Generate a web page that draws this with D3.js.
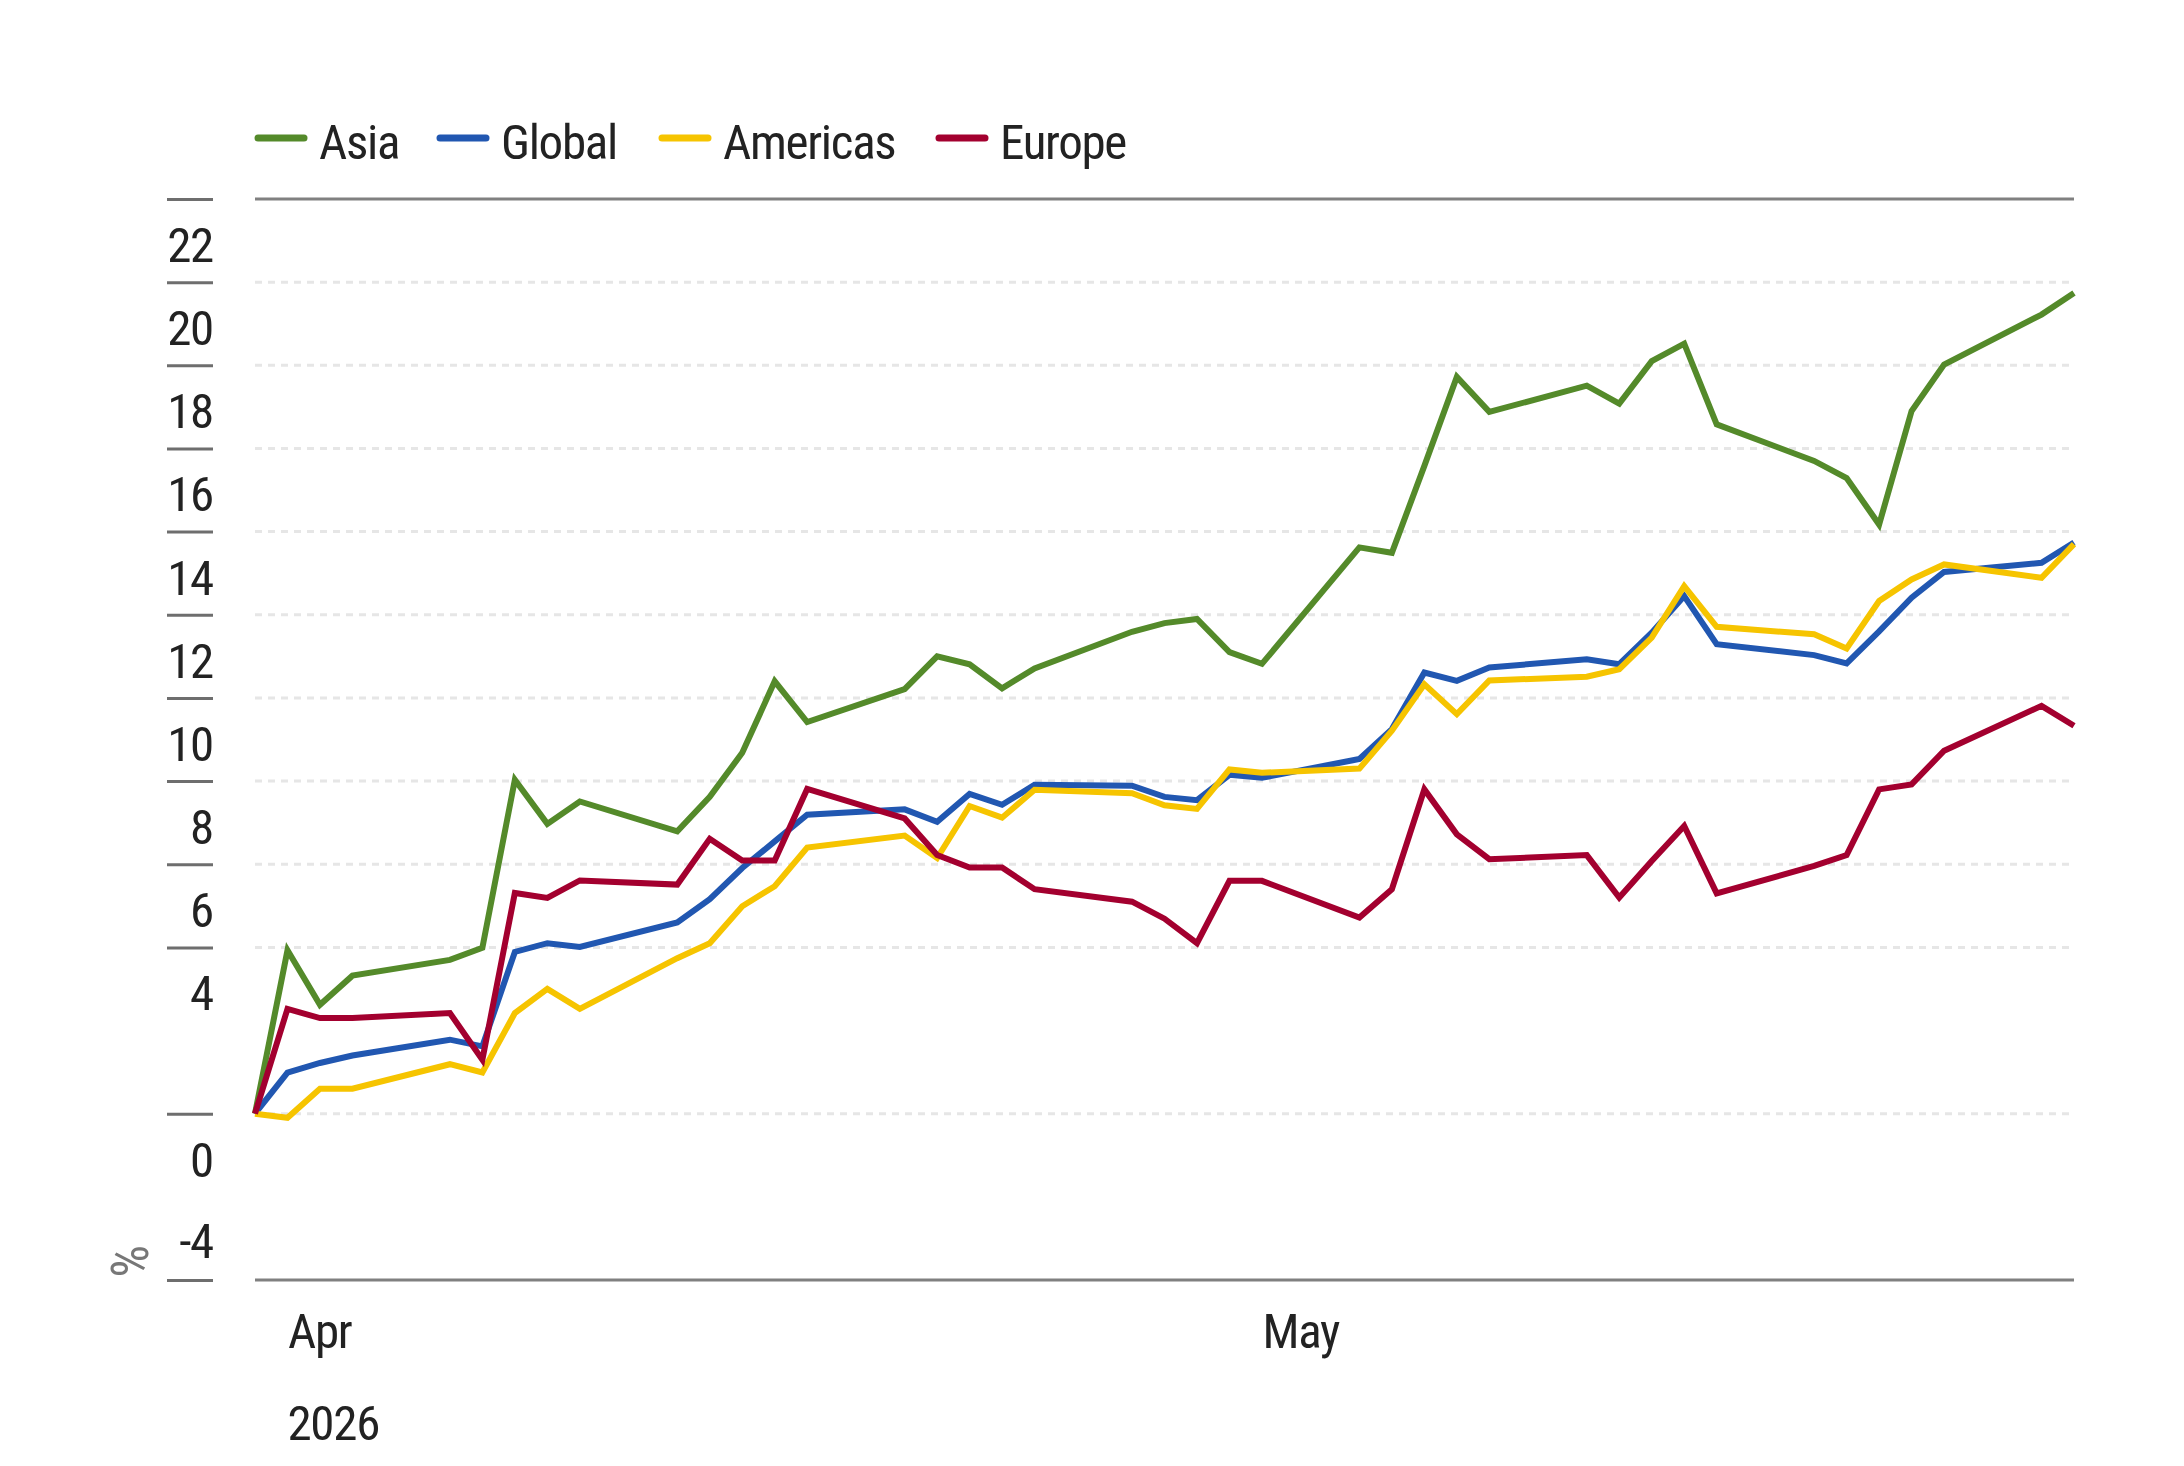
<!DOCTYPE html>
<html>
<head>
<meta charset="utf-8">
<script src="https://cdn.jsdelivr.net/npm/d3@7"></script>
<style>
    body { margin: 0; background: #fff; }
    svg text { font-family: "Liberation Sans Narrow", "Roboto Condensed", "DejaVu Sans Condensed", sans-serif; letter-spacing: -1.3px; }
</style>
</head>
<body>
<div id="chart"></div>
<script>
// trading days (since 31 Mar 2026)
var dates = ["2026-03-31", "2026-04-01", "2026-04-02", "2026-04-03", "2026-04-06", "2026-04-07", "2026-04-08",
    "2026-04-09", "2026-04-10", "2026-04-13", "2026-04-14", "2026-04-15", "2026-04-16", "2026-04-17",
    "2026-04-20", "2026-04-21", "2026-04-22", "2026-04-23", "2026-04-24", "2026-04-27", "2026-04-28",
    "2026-04-29", "2026-04-30", "2026-05-01", "2026-05-04", "2026-05-05", "2026-05-06", "2026-05-07",
    "2026-05-08", "2026-05-11", "2026-05-12", "2026-05-13", "2026-05-14", "2026-05-15", "2026-05-18",
    "2026-05-19", "2026-05-20", "2026-05-21", "2026-05-22", "2026-05-25", "2026-05-26"];

var asia = [0, 3.93, 2.62, 3.32, 3.70, 3.99, 8.03, 6.97, 7.51, 6.79, 7.62, 8.68, 10.40, 9.42,
    10.21, 11.0, 10.81, 10.23, 10.71, 11.59, 11.80, 11.90, 11.10, 10.82, 13.62, 13.49, 15.58, 17.72,
    16.88, 17.51, 17.08, 18.10, 18.52, 16.58, 15.70, 15.29, 14.17, 16.90, 18.02, 19.22, 19.74];
var global = [0, 0.99, 1.22, 1.40, 1.78, 1.62, 3.89, 4.10, 4.01, 4.60, 5.16, 5.91, 6.55, 7.19,
    7.32, 7.02, 7.69, 7.43, 7.91, 7.89, 7.62, 7.54, 8.15, 8.08, 8.53, 9.25, 10.61, 10.41,
    10.73, 10.93, 10.81, 11.57, 12.45, 11.29, 11.03, 10.83, 11.60, 12.41, 13.03, 13.25, 13.74];
var americas = [0, -0.10, 0.60, 0.60, 1.19, 0.99, 2.42, 3.00, 2.52, 3.74, 4.10, 4.99, 5.47, 6.40,
    6.69, 6.15, 7.40, 7.12, 7.79, 7.71, 7.42, 7.33, 8.28, 8.20, 8.30, 9.21, 10.33, 9.61,
    10.42, 10.51, 10.69, 11.45, 12.69, 11.71, 11.53, 11.19, 12.33, 12.85, 13.21, 12.89, 13.70];
var europe = [0, 2.52, 2.30, 2.30, 2.42, 1.30, 5.31, 5.19, 5.61, 5.51, 6.61, 6.09, 6.09, 7.81,
    7.10, 6.22, 5.92, 5.92, 5.40, 5.10, 4.69, 4.10, 5.60, 5.60, 4.72, 5.40, 7.80, 6.72,
    6.12, 6.22, 5.20, 6.08, 6.92, 5.30, 5.96, 6.22, 7.80, 7.92, 8.73, 9.81, 9.33];

var seriesNames = ["Asia", "Global", "Americas", "Europe"];
var seriesColors = ["#548a2a", "#2157b1", "#f6c400", "#a3002f"];
var seriesValues = [asia, global, americas, europe];

var yTicks = [-4, 0, 4, 6, 8, 10, 12, 14, 16, 18, 20, 22];
var yGrid = [0, 4, 6, 8, 10, 12, 14, 16, 18, 20];
var xTicks = ["2026-04-01", "2026-05-01"];
var yearLabel = "2026";

// set the dimensions of the page
var width = 2184, height = 1466;
var plot = { left: 255, right: 2074, top: 199, bottom: 1280 };

var svg = d3.select("#chart")
    .append("svg")
    .attr("width", width)
    .attr("height", height);

var parseDate = d3.timeParse("%Y-%m-%d");

// X scale (calendar days)
var x = d3.scaleTime()
    .domain([parseDate(dates[0]), parseDate(dates[dates.length - 1])])
    .range([plot.left, plot.right]);

// Y scale
var y = d3.scaleLinear()
    .domain([-4, 22])
    .range([plot.bottom, plot.top]);

// dotted gridlines
svg.append("g")
    .selectAll("line")
    .data(yGrid)
    .enter()
    .append("line")
    .attr("x1", plot.left)
    .attr("x2", plot.right)
    .attr("y1", function (d) { return y(d); })
    .attr("y2", function (d) { return y(d); })
    .style("stroke", "#e6e6e6")
    .style("stroke-width", 3)
    .style("stroke-dasharray", "7,6");

// solid top and bottom lines
svg.append("g")
    .selectAll("line")
    .data(y.domain())
    .enter()
    .append("line")
    .attr("x1", plot.left)
    .attr("x2", plot.right)
    .attr("y1", function (d) { return y(d); })
    .attr("y2", function (d) { return y(d); })
    .style("stroke", "#808080")
    .style("stroke-width", 3);

// Y axis tick marks on the left
var yAxis = svg.append("g")
    .attr("transform", "translate(213,0)")
    .call(d3.axisLeft(y).tickValues(yTicks).tickSize(46).tickFormat(""));
yAxis.select(".domain").remove();
yAxis.selectAll(".tick line")
    .style("stroke", "#6e6e6e")
    .style("stroke-width", 3);

// Y labels sit under their tick (the lowest one above it)
svg.append("g")
    .selectAll("text")
    .data(yTicks)
    .enter()
    .append("text")
    .attr("x", 213)
    .attr("y", function (d) {
        if (d === y.domain()[0]) return y(d) - 22;
        return y(d) + 63;
    })
    .attr("text-anchor", "end")
    .style("font-size", "49px")
    .style("fill", "#222")
    .text(function (d) { return d; });

// % unit label
svg.append("text")
    .attr("transform", "translate(148,1262) rotate(-90)")
    .attr("text-anchor", "middle")
    .style("font-size", "52px")
    .style("fill", "#777")
    .text("%");

// X axis
var xAxis = svg.append("g")
    .attr("transform", "translate(0,1348)")
    .call(d3.axisBottom(x)
        .tickValues(xTicks.map(parseDate))
        .tickSize(0)
        .tickFormat(d3.timeFormat("%b")));
xAxis.select(".domain").remove();
xAxis.selectAll("text")
    .attr("y", 0)
    .attr("dy", 0)
    .attr("text-anchor", "start")
    .style("font-family", null)
    .style("font-size", "49px")
    .style("fill", "#222");

svg.append("text")
    .attr("x", x(parseDate(xTicks[0])))
    .attr("y", 1440)
    .style("font-size", "49px")
    .style("fill", "#222")
    .text(yearLabel);

// lines
var line = d3.line()
    .x(function (d) { return x(d.date); })
    .y(function (d) { return y(d.value); });

seriesNames.forEach(function (name, i) {
    var data = dates.map(function (dt, j) {
        return { date: parseDate(dt), value: seriesValues[i][j] };
    });
    svg.append("path")
        .datum(data)
        .attr("d", line)
        .style("fill", "none")
        .style("stroke", seriesColors[i])
        .style("stroke-width", 6);
});

// legend
var legendX = [258, 440, 662, 939];
var legend = svg.append("g")
    .selectAll("g")
    .data(seriesNames)
    .enter()
    .append("g")
    .attr("transform", function (d, i) { return "translate(" + legendX[i] + ",138)"; });
legend.append("line")
    .attr("x1", 0)
    .attr("x2", 46)
    .style("stroke", function (d, i) { return seriesColors[i]; })
    .style("stroke-width", 7)
    .style("stroke-linecap", "round");
legend.append("text")
    .attr("x", 61)
    .attr("y", 21)
    .style("font-size", "49px")
    .style("fill", "#222")
    .text(function (d) { return d; });
</script>
</body>
</html>
